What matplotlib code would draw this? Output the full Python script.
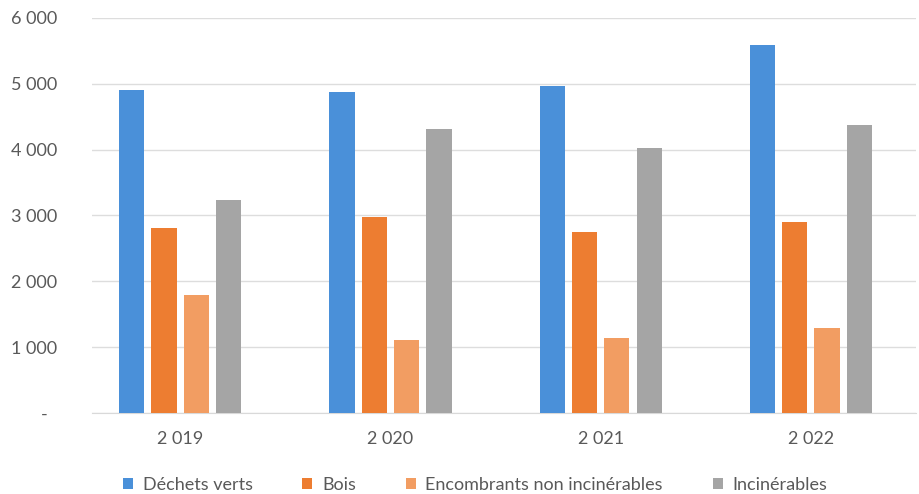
import matplotlib
matplotlib.use("Agg")
import matplotlib.pyplot as plt
import numpy as np

years = ["2 019", "2 020", "2 021", "2 022"]
series_names = ["Déchets verts", "Bois", "Encombrants non incinérables", "Incinérables"]
dechets_verts = [4900, 4880, 4970, 5590]
bois = [2810, 2980, 2750, 2900]
encombrants = [1790, 1110, 1140, 1290]
incinerables = [3240, 4320, 4030, 4370]
colors = ["#4A90D9", "#ED7D31", "#F29D62", "#A5A5A5"]
y_ticks = [0, 1000, 2000, 3000, 4000, 5000, 6000]
y_tick_labels = ["-  ", "1 000", "2 000", "3 000", "4 000", "5 000", "6 000"]

plt.rcParams['font.family'] = ['Lato', 'DejaVu Sans']

fig = plt.figure(figsize=(9.2, 4.94), dpi=100)
ax = fig.add_axes([92/920, 1-413/494, (916-92)/920, (413-18)/494])

data = [dechets_verts, bois, encombrants, incinerables]
x = np.arange(len(years))
w = 0.12
step = 0.154
for i, (vals, name, c) in enumerate(zip(data, series_names, colors)):
    ax.bar(x + (i - 1.5) * step, vals, width=w, color=c, label=name, zorder=3)

ax.set_xlim(-0.42, 3.5)
ax.set_ylim(0, 6000)
ax.set_yticks(y_ticks)
ax.set_yticklabels(y_tick_labels)
ax.set_xticks(x)
ax.set_xticklabels(years)
ax.grid(axis='y', color='#DDDDDD', linewidth=1, zorder=0)
for s in ['top', 'right', 'left']:
    ax.spines[s].set_visible(False)
ax.spines['bottom'].set_color('#D9D9D9')
ax.tick_params(axis='both', length=0, labelsize=13, colors='#595959')
ax.tick_params(axis='y', pad=25)
ax.tick_params(axis='x', pad=13)

fig.legend(loc='center', bbox_to_anchor=(475/920, 1-485/494), ncol=4, frameon=False,
           fontsize=13, handlelength=0.55, handleheight=0.55, columnspacing=2.75,
           handletextpad=0.55, labelcolor='#595959', borderpad=0, borderaxespad=0)

fig.savefig("out.png", dpi=100)
